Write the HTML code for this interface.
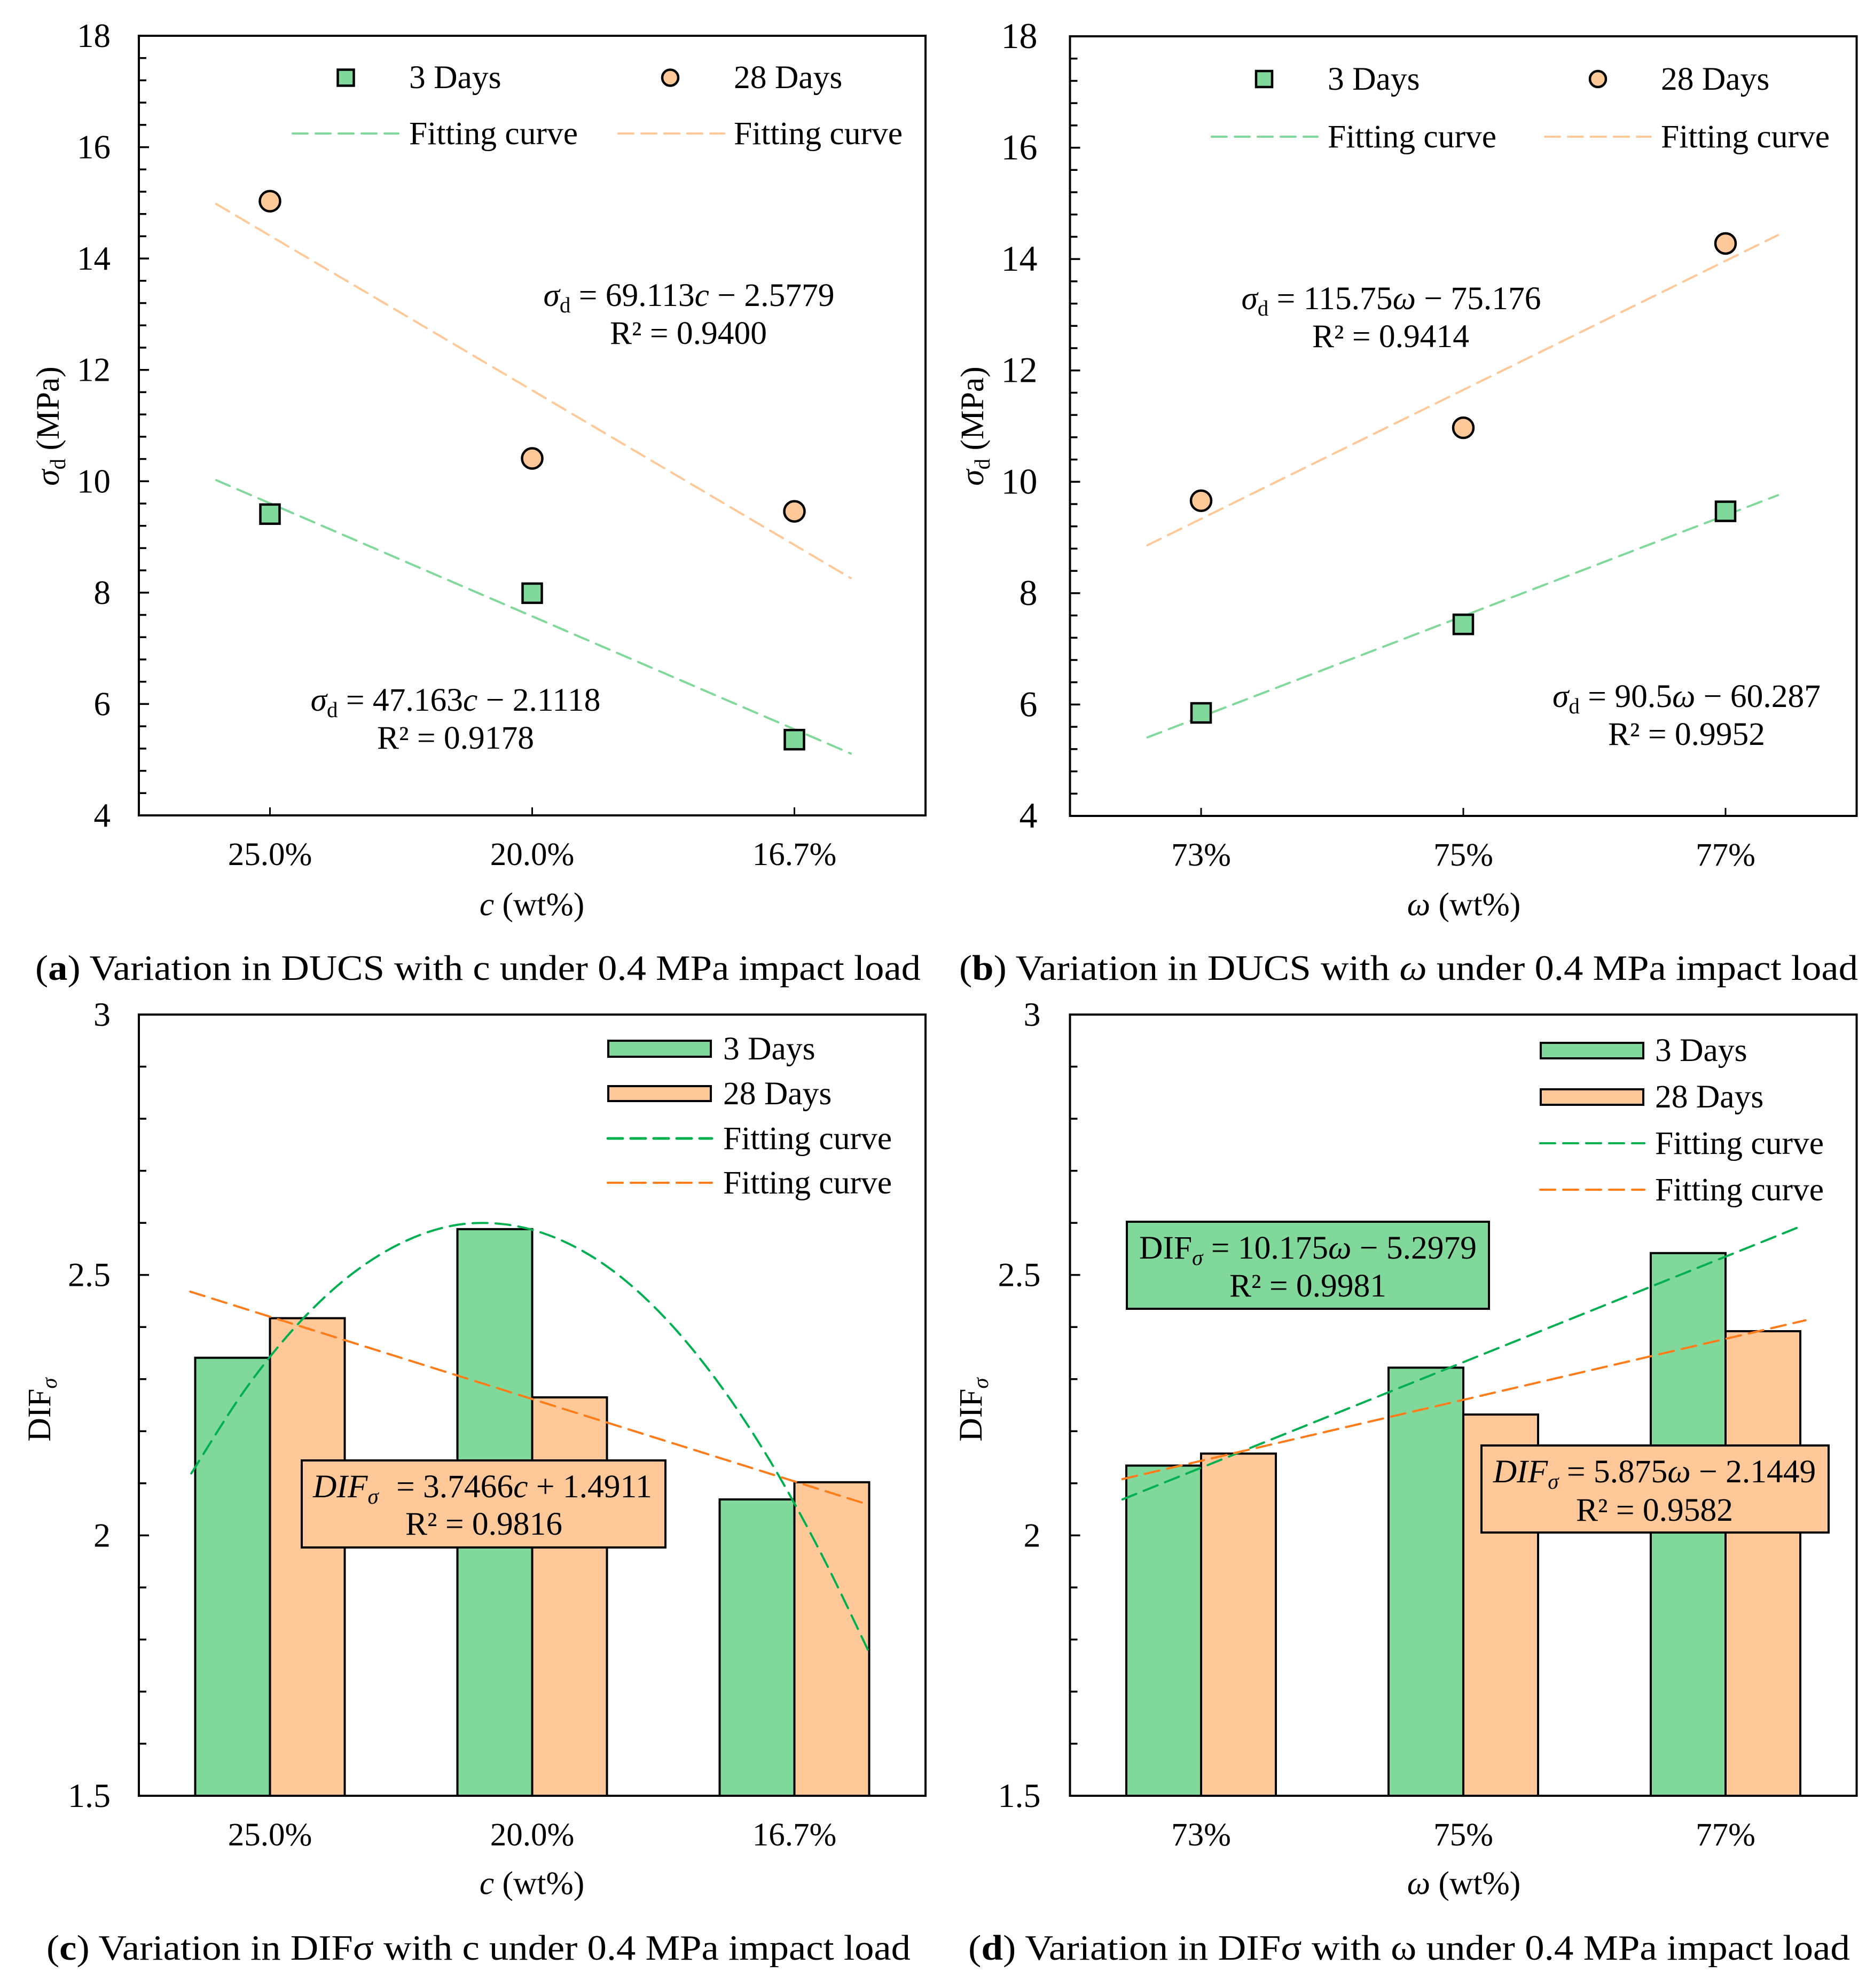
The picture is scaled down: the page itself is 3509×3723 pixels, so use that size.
<!DOCTYPE html>
<html lang="en">
<head>
<meta charset="utf-8">
<title>DUCS and DIF variation charts</title>
<style>
html,body{margin:0;padding:0;background:#fff;}
svg{display:block;}
text{font-family:"Liberation Serif","DejaVu Serif",serif;fill:#000;}
.t60{font-size:61.500px;}
.i{font-style:italic;}
.cap{font-size:67px;}
</style>
</head>
<body>
<svg id="figure" xmlns="http://www.w3.org/2000/svg" width="3509" height="3723" viewBox="0 0 3509 3723">
<rect x="0" y="0" width="3509" height="3723" fill="#fff"/>
<g id="panel-a"></g>
<g id="panel-b"></g>
<g id="panel-c"></g>
<g id="panel-d"></g>

<!-- Panel a static text -->
<text class="t60" transform="translate(110 798) rotate(-90)" text-anchor="middle"><tspan class="i">σ</tspan><tspan font-size="41" dy="12">d</tspan><tspan dy="-12"> (MPa)</tspan></text>
<text class="t60" x="996" y="1714" text-anchor="middle"><tspan class="i">c</tspan> (wt%)</text>
<g>
<rect x="632.500" y="130.500" width="30" height="30" fill="#80D99B" stroke="#000" stroke-width="4.500"/>
<text class="t60" x="766" y="165">3 Days</text>
<circle cx="1255" cy="145.500" r="15" fill="#FFC898" stroke="#000" stroke-width="4.500"/>
<text class="t60" x="1374" y="165">28 Days</text>
<line x1="548" y1="250" x2="746" y2="250" stroke="#80D99B" stroke-width="4" stroke-dasharray="28 15" stroke-linecap="round"/>
<text class="t60" x="766" y="270">Fitting curve</text>
<line x1="1158" y1="250" x2="1356" y2="250" stroke="#FFC898" stroke-width="4" stroke-dasharray="28 15" stroke-linecap="round"/>
<text class="t60" x="1374" y="270">Fitting curve</text>
</g>
<text class="t60" x="1290" y="573" text-anchor="middle"><tspan class="i">σ</tspan><tspan font-size="41" dy="12">d</tspan><tspan dy="-12"> = 69.113</tspan><tspan class="i">c</tspan> − 2.5779</text>
<text class="t60" x="1289" y="644" text-anchor="middle">R² = 0.9400</text>
<text class="t60" x="853" y="1331" text-anchor="middle"><tspan class="i">σ</tspan><tspan font-size="41" dy="12">d</tspan><tspan dy="-12"> = 47.163</tspan><tspan class="i">c</tspan> − 2.1118</text>
<text class="t60" x="853" y="1402" text-anchor="middle">R² = 0.9178</text>
<text class="cap" x="66" y="1835" textLength="1658" lengthAdjust="spacingAndGlyphs">(<tspan font-weight="bold">a</tspan>) Variation in DUCS with c under 0.4 MPa impact load</text>

<!-- Panel b static text -->
<text class="t60" transform="translate(1841 798) rotate(-90)" text-anchor="middle"><tspan class="i">σ</tspan><tspan font-size="41" dy="12">d</tspan><tspan dy="-12"> (MPa)</tspan></text>
<text class="t60" x="2741" y="1714" text-anchor="middle"><tspan class="i">ω</tspan> (wt%)</text>
<g>
<rect x="2352" y="133" width="30" height="30" fill="#80D99B" stroke="#000" stroke-width="4.500"/>
<text class="t60" x="2486" y="168">3 Days</text>
<circle cx="2992" cy="148" r="15" fill="#FFC898" stroke="#000" stroke-width="4.500"/>
<text class="t60" x="3110" y="168">28 Days</text>
<line x1="2269" y1="256" x2="2467" y2="256" stroke="#80D99B" stroke-width="4" stroke-dasharray="28 15" stroke-linecap="round"/>
<text class="t60" x="2486" y="276">Fitting curve</text>
<line x1="2893" y1="256" x2="3091" y2="256" stroke="#FFC898" stroke-width="4" stroke-dasharray="28 15" stroke-linecap="round"/>
<text class="t60" x="3110" y="276">Fitting curve</text>
</g>
<text class="t60" x="2605" y="579" text-anchor="middle"><tspan class="i">σ</tspan><tspan font-size="41" dy="12">d</tspan><tspan dy="-12"> = 115.75</tspan><tspan class="i">ω</tspan> − 75.176</text>
<text class="t60" x="2604" y="650" text-anchor="middle">R² = 0.9414</text>
<text class="t60" x="3158" y="1324" text-anchor="middle"><tspan class="i">σ</tspan><tspan font-size="41" dy="12">d</tspan><tspan dy="-12"> = 90.5</tspan><tspan class="i">ω</tspan> − 60.287</text>
<text class="t60" x="3158" y="1395" text-anchor="middle">R² = 0.9952</text>
<text class="cap" x="1796" y="1835" textLength="1683" lengthAdjust="spacingAndGlyphs">(<tspan font-weight="bold">b</tspan>) Variation in DUCS with <tspan class="i">ω</tspan> under 0.4 MPa impact load</text>

<!-- Panel c static text -->
<text class="t60" transform="translate(94 2640) rotate(-90)" text-anchor="middle">DIF<tspan class="i" font-size="41" dy="12">σ</tspan></text>
<text class="t60" x="996" y="3547" text-anchor="middle"><tspan class="i">c</tspan> (wt%)</text>
<g>
<rect x="1139" y="1949" width="192" height="30" fill="#80D99B" stroke="#000" stroke-width="4"/>
<text class="t60" x="1354" y="1984">3 Days</text>
<rect x="1139" y="2034" width="192" height="28" fill="#FFC898" stroke="#000" stroke-width="4"/>
<text class="t60" x="1354" y="2068">28 Days</text>
<line x1="1138" y1="2132" x2="1333" y2="2132" stroke="#00B050" stroke-width="5" stroke-dasharray="28 15" stroke-linecap="round"/>
<text class="t60" x="1354" y="2152">Fitting curve</text>
<line x1="1138" y1="2215" x2="1333" y2="2215" stroke="#FF7C1A" stroke-width="4" stroke-dasharray="28 15" stroke-linecap="round"/>
<text class="t60" x="1354" y="2235">Fitting curve</text>
</g>
<text class="cap" x="87" y="3670" textLength="1618" lengthAdjust="spacingAndGlyphs">(<tspan font-weight="bold">c</tspan>) Variation in DIFσ with c under 0.4 MPa impact load</text>

<!-- Panel d static text -->
<text class="t60" transform="translate(1838 2640) rotate(-90)" text-anchor="middle">DIF<tspan class="i" font-size="41" dy="12">σ</tspan></text>
<text class="t60" x="2741" y="3547" text-anchor="middle"><tspan class="i">ω</tspan> (wt%)</text>
<g>
<rect x="2885" y="1953" width="192" height="29" fill="#80D99B" stroke="#000" stroke-width="4"/>
<text class="t60" x="3099" y="1987">3 Days</text>
<rect x="2885" y="2040" width="192" height="29" fill="#FFC898" stroke="#000" stroke-width="4"/>
<text class="t60" x="3099" y="2074">28 Days</text>
<line x1="2884" y1="2141" x2="3079" y2="2141" stroke="#00B050" stroke-width="4" stroke-dasharray="28 15" stroke-linecap="round"/>
<text class="t60" x="3099" y="2161">Fitting curve</text>
<line x1="2884" y1="2228" x2="3079" y2="2228" stroke="#FF7C1A" stroke-width="4" stroke-dasharray="28 15" stroke-linecap="round"/>
<text class="t60" x="3099" y="2248">Fitting curve</text>
</g>
<text class="cap" x="1813" y="3670" textLength="1651" lengthAdjust="spacingAndGlyphs">(<tspan font-weight="bold">d</tspan>) Variation in DIFσ with ω under 0.4 MPa impact load</text>

<!-- Annotation boxes for c and d are added on top of the marks -->
<g id="annotations">
<rect x="565" y="2735" width="681" height="163" fill="#FFC898" stroke="#000" stroke-width="4"/>
<text class="t60" x="586" y="2804"><tspan class="i">DIF</tspan><tspan class="i" font-size="41" dy="12">σ</tspan><tspan x="742" dy="-12">= 3.7466</tspan><tspan class="i">c</tspan> + 1.4911</text>
<text class="t60" x="906" y="2874" text-anchor="middle">R² = 0.9816</text>
<rect x="2110" y="2288" width="678" height="163" fill="#80D99B" stroke="#000" stroke-width="4"/>
<text class="t60" x="2449" y="2357" text-anchor="middle">DIF<tspan class="i" font-size="41" dy="12">σ</tspan><tspan dy="-12"> = 10.175</tspan><tspan class="i">ω</tspan> − 5.2979</text>
<text class="t60" x="2449" y="2428" text-anchor="middle">R² = 0.9981</text>
<rect x="2774" y="2707" width="650" height="163" fill="#FFC898" stroke="#000" stroke-width="4"/>
<text class="t60" x="3098" y="2776" text-anchor="middle"><tspan class="i">DIF</tspan><tspan class="i" font-size="41" dy="12">σ</tspan><tspan dy="-12"> = 5.875</tspan><tspan class="i">ω</tspan> − 2.1449</text>
<text class="t60" x="3098" y="2848" text-anchor="middle">R² = 0.9582</text>
</g>
</svg>
<script>
/* ---------- data ---------- */
const categoriesC = ["25.0%", "20.0%", "16.7%"];
const categoriesW = ["73%", "75%", "77%"];
const sigmaTickLabels = ["4", "6", "8", "10", "12", "14", "16", "18"];
const sigmaTickValues = [4, 6, 8, 10, 12, 14, 16, 18];
const sigmaMinorValues = [4.4, 4.8, 5.2, 5.6, 6.4, 6.8, 7.2, 7.6, 8.4, 8.8, 9.2, 9.6, 10.4, 10.8, 11.2, 11.6, 12.4, 12.8, 13.2, 13.6, 14.4, 14.8, 15.2, 15.6, 16.4, 16.8, 17.2, 17.6];
const difTickLabels = ["1.5", "2", "2.5", "3"];
const difTickValues = [1.5, 2, 2.5, 3];
const difMinorValues = [1.6, 1.7, 1.8, 1.9, 2.1, 2.2, 2.3, 2.4, 2.6, 2.7, 2.8, 2.9];

const a3Days = [9.41, 7.99, 5.36];
const a28Days = [15.03, 10.41, 9.46];
const aFitPos = [-0.205, 2.215];
const aFit3Days = [10.02, 5.11];
const aFit28Days = [14.98, 8.26];

const b3Days = [5.85, 7.44, 9.47];
const b28Days = [9.66, 10.97, 14.28];
const bFitPos = [-0.205, 2.2];
const bFit3Days = [5.41, 9.76];
const bFit28Days = [8.86, 14.43];

const c3Days = [2.341, 2.588, 2.069];
const c28Days = [2.417, 2.265, 2.102];
const cFit3DaysPos = [-0.3, -0.1, 0.1, 0.3, 0.5, 0.7, 0.9, 1.1, 1.3, 1.5, 1.7, 1.9, 2.1, 2.29];
const cFit3Days = [2.119, 2.276, 2.402, 2.497, 2.561, 2.595, 2.597, 2.569, 2.511, 2.421, 2.30, 2.149, 1.967, 1.77];
const cFit28DaysPos = [-0.304, 2.276];
const cFit28Days = [2.468, 2.06];

const d3Days = [2.134, 2.322, 2.542];
const d28Days = [2.157, 2.232, 2.392];
const dFit3DaysPos = [-0.30, 2.29];
const dFit3Days = [2.069, 2.594];
const dFit28DaysPos = [-0.30, 2.305];
const dFit28Days = [2.108, 2.413];

/* ---------- helpers ---------- */
const NS = "http://www.w3.org/2000/svg";
const GREEN = "#80D99B", ORANGE = "#FFC898", DGREEN = "#00B050", DORANGE = "#FF7C1A";

function mk(parent, tag, attrs) {
  const e = document.createElementNS(NS, tag);
  for (const k in attrs) e.setAttribute(k, attrs[k]);
  parent.appendChild(e);
  return e;
}

function makeAxes(left, right, top, bottom, yMin, yMax) {
  const band = (right - left) / 3;
  return {
    left, right, top, bottom, band,
    x: function (pos) { return left + band * (pos + 0.5); },
    y: function (v) { return bottom - (v - yMin) / (yMax - yMin) * (bottom - top); }
  };
}

function drawAxes(g, ax, id, cats, majorV, majorL, minorV, opts) {
  for (let i = 0; i < minorV.length; i++) {
    const t = mk(g, "line", { x1: ax.left, x2: ax.left + 14, y1: ax.y(minorV[i]), y2: ax.y(minorV[i]), stroke: "#000", "stroke-width": 3.5 });
    
    
  }
  for (let i = 0; i < majorV.length; i++) {
    const t = mk(g, "line", { x1: ax.left, x2: ax.left + 19, y1: ax.y(majorV[i]), y2: ax.y(majorV[i]), stroke: "#000", "stroke-width": 3.5 });
    
    
    const l = mk(g, "text", { x: ax.left - opts.labelGap, y: ax.y(majorV[i]) + opts.labelDy, "text-anchor": "end", "font-size": opts.yFont });
    
    
    l.textContent = majorL[i];
  }
  for (let i = 0; i < cats.length; i++) {
    const t = mk(g, "line", { x1: ax.x(i), x2: ax.x(i), y1: ax.bottom, y2: ax.bottom - 15, stroke: "#000", "stroke-width": 3 });
    
    
    const l = mk(g, "text", { x: ax.x(i) + opts.xLabelDx, y: ax.bottom + opts.xLabelDy, "text-anchor": "middle", "font-size": 61 });
    
    
    l.textContent = cats[i];
  }
}

function drawFrame(g, ax, id) {
  const f = mk(g, "rect", { x: ax.left, y: ax.top, width: ax.right - ax.left, height: ax.bottom - ax.top, fill: "none", stroke: "#000", "stroke-width": 4 });
  
  
}

function fitPath(ax, pos, vals) {
  const p = pos.map(function (v, i) { return [ax.x(v), ax.y(vals[i])]; });
  let d = "M" + p[0][0] + " " + p[0][1];
  for (let i = 0; i < p.length - 1; i++) {
    const p0 = p[Math.max(i - 1, 0)], p1 = p[i], p2 = p[i + 1], p3 = p[Math.min(i + 2, p.length - 1)];
    const c1x = p1[0] + (p2[0] - p0[0]) / 6, c1y = p1[1] + (p2[1] - p0[1]) / 6;
    const c2x = p2[0] - (p3[0] - p1[0]) / 6, c2y = p2[1] - (p3[1] - p1[1]) / 6;
    d += " C" + c1x + " " + c1y + " " + c2x + " " + c2y + " " + p2[0] + " " + p2[1];
  }
  return d;
}

function drawFit(g, ax, pos, vals, color, width, name) {
  const line = mk(g, "path", { d: fitPath(ax, pos, vals), fill: "none", stroke: color, "stroke-width": width, "stroke-dasharray": "28 15", "stroke-linecap": "round" });
  
  
}

function drawSquares(g, ax, vals, id) {
  for (let i = 0; i < vals.length; i++) {
    const s = mk(g, "rect", { x: ax.x(i) - 18, y: ax.y(vals[i]) - 18, width: 36, height: 36, fill: GREEN, stroke: "#000", "stroke-width": 4.5 });
    
    
  }
}

function drawCircles(g, ax, vals, id) {
  for (let i = 0; i < vals.length; i++) {
    const c = mk(g, "circle", { cx: ax.x(i), cy: ax.y(vals[i]), r: 19, fill: ORANGE, stroke: "#000", "stroke-width": 4.5 });
    
    
  }
}

function drawBars(g, ax, vals3, vals28, id) {
  const w = 140;
  for (let i = 0; i < vals3.length; i++) {
    const y3 = ax.y(vals3[i]);
    const b3 = mk(g, "rect", { x: ax.x(i) - w, y: y3, width: w, height: ax.bottom - y3, fill: GREEN, stroke: "#000", "stroke-width": 4 });
    
    
    const y28 = ax.y(vals28[i]);
    const b28 = mk(g, "rect", { x: ax.x(i), y: y28, width: w, height: ax.bottom - y28, fill: ORANGE, stroke: "#000", "stroke-width": 4 });
    
    
  }
}

/* ---------- panels ---------- */
const gA = document.getElementById("panel-a");
const axA = makeAxes(260, 1733, 67, 1527, 4, 18);
drawAxes(gA, axA, "a", categoriesC, sigmaTickValues, sigmaTickLabels, sigmaMinorValues, { yFont: 63, labelGap: 53, labelDy: 21, xLabelDx: 0, xLabelDy: 93 });
drawFit(gA, axA, aFitPos, aFit28Days, ORANGE, 4, "fit-line-28-days-a");
drawFit(gA, axA, aFitPos, aFit3Days, GREEN, 4, "fit-line-3-days-a");
drawFrame(gA, axA, "a");
drawSquares(gA, axA, a3Days, "a");
drawCircles(gA, axA, a28Days, "a");

const gB = document.getElementById("panel-b");
const axB = makeAxes(2003.5, 3476.5, 68, 1528, 4, 18);
drawAxes(gB, axB, "b", categoriesW, sigmaTickValues, sigmaTickLabels, sigmaMinorValues, { yFont: 68, labelGap: 61, labelDy: 22, xLabelDx: 0, xLabelDy: 93 });
drawFit(gB, axB, bFitPos, bFit28Days, ORANGE, 4, "fit-line-28-days-b");
drawFit(gB, axB, bFitPos, bFit3Days, GREEN, 4, "fit-line-3-days-b");
drawFrame(gB, axB, "b");
drawSquares(gB, axB, b3Days, "b");
drawCircles(gB, axB, b28Days, "b");

const gC = document.getElementById("panel-c");
const axC = makeAxes(260, 1733, 1900, 3363, 1.5, 3);
drawAxes(gC, axC, "c", categoriesC, difTickValues, difTickLabels, difMinorValues, { yFont: 64, labelGap: 53, labelDy: 21, xLabelDx: 0, xLabelDy: 93 });
drawBars(gC, axC, c3Days, c28Days, "c");
drawFit(gC, axC, cFit3DaysPos, cFit3Days, DGREEN, 4, "fit-curve-3-days-c");
drawFit(gC, axC, cFit28DaysPos, cFit28Days, DORANGE, 4, "fit-line-28-days-c");
drawFrame(gC, axC, "c");

const gD = document.getElementById("panel-d");
const axD = makeAxes(2003.5, 3476.5, 1900, 3363, 1.5, 3);
drawAxes(gD, axD, "d", categoriesW, difTickValues, difTickLabels, difMinorValues, { yFont: 64, labelGap: 55, labelDy: 21, xLabelDx: 0, xLabelDy: 93 });
drawBars(gD, axD, d3Days, d28Days, "d");
drawFit(gD, axD, dFit3DaysPos, dFit3Days, DGREEN, 4, "fit-line-3-days-d");
drawFit(gD, axD, dFit28DaysPos, dFit28Days, DORANGE, 4, "fit-line-28-days-d");
drawFrame(gD, axD, "d");
</script>
</body>
</html>
